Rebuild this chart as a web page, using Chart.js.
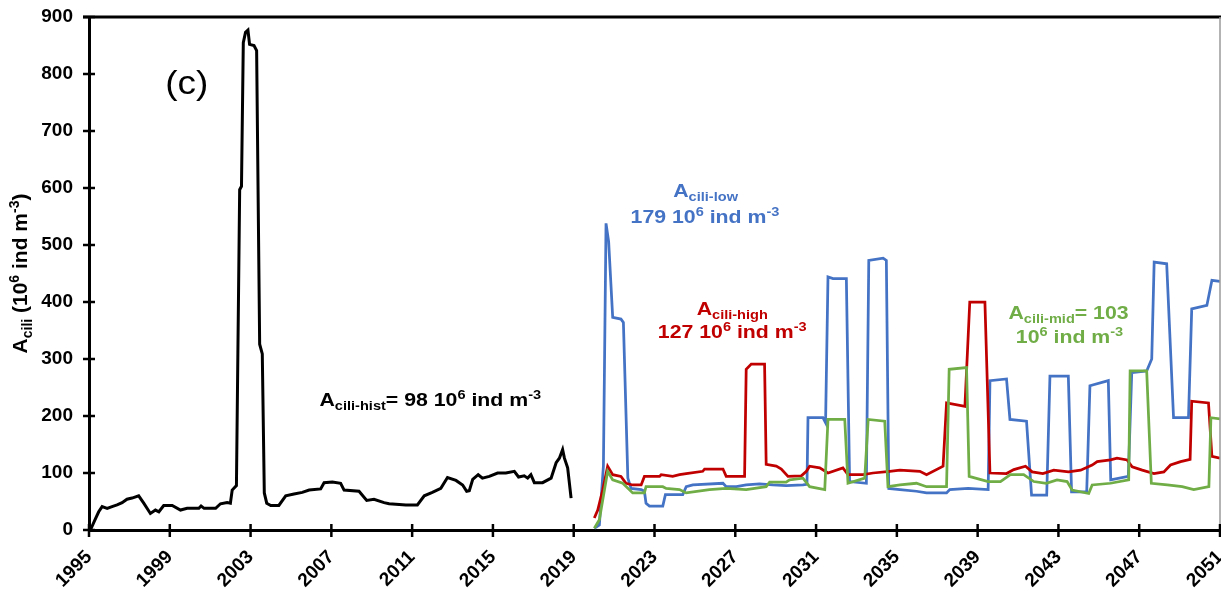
<!DOCTYPE html>
<html><head><meta charset="utf-8">
<script src="https://cdn.jsdelivr.net/npm/chart.js@4/dist/chart.umd.min.js"></script>
<style>html,body{margin:0;padding:0;background:#fff}#wrap{width:1221px;height:594px;position:relative}</style>
</head><body><div id="wrap"><canvas id="c"></canvas></div>
<script>
// ---- data ----
const histYears = [1995.07,1995.3,1995.48,1995.65,1995.9,1996.14,1996.39,1996.64,1996.88,1997.13,1997.46,1997.71,1998.04,1998.29,1998.46,1998.7,1999.12,1999.53,1999.86,2000.44,2000.55,2000.7,2001.27,2001.51,2001.84,2002.0,2002.09,2002.3,2002.46,2002.55,2002.64,2002.75,2002.87,2002.95,2003.17,2003.3,2003.45,2003.58,2003.68,2003.8,2004.0,2004.4,2004.74,2005.15,2005.56,2005.9,2006.47,2006.64,2007.05,2007.46,2007.63,2008.37,2008.75,2009.11,2009.61,2009.86,2010.69,2011.26,2011.6,2012.0,2012.42,2012.75,2013.17,2013.5,2013.7,2013.83,2014.0,2014.27,2014.48,2014.82,2015.23,2015.64,2016.06,2016.27,2016.55,2016.72,2016.88,2017.05,2017.46,2017.88,2018.13,2018.29,2018.45,2018.54,2018.7,2018.87];
const histValues = [0,18,32,41,38,41,44,48,54,56,60,47,29,35,32,43,43,35,38,38,42,38,38,46,48,47,70,78,597,603,855,873,877,852,850,841,326,309,65,47,43,43,60,63,66,70,72,83,84,82,70,68,52,54,48,46,44,44,60,66,73,92,87,79,68,69,89,97,91,94,100,100,103,93,95,91,97,83,83,91,118,126,141,126,109,56];

const lowYears = [2020.02,2020.27,2020.47,2020.6,2020.73,2020.93,2021.34,2021.46,2021.68,2021.84,2022.34,2022.5,2022.58,2022.75,2023.41,2023.54,2024.4,2024.57,2024.9,2026.39,2026.55,2027.05,2027.54,2028.2,2028.86,2029.52,2030.35,2030.55,2030.6,2031.34,2031.47,2031.59,2031.84,2032.5,2032.66,2033.49,2033.61,2034.32,2034.48,2034.6,2035.15,2035.97,2036.47,2037.46,2037.62,2038.53,2039.52,2039.61,2040.43,2040.6,2041.42,2041.67,2042.42,2042.58,2043.49,2043.65,2044.4,2044.56,2045.47,2045.59,2046.46,2046.63,2047.37,2047.62,2047.74,2048.36,2048.7,2049.44,2049.6,2050.35,2050.6,2051.0];
const lowValues = [3,9,112,538,506,373,370,364,91,73,71,68,47,42,42,62,62,76,79,82,76,76,79,81,79,78,79,80,197,197,188,444,441,441,85,82,473,477,473,73,71,68,65,65,71,73,71,262,265,194,191,61,61,270,270,67,67,253,262,88,94,276,279,300,470,467,197,197,388,394,438,436];

const highYears = [2020.02,2020.19,2020.44,2020.68,2020.93,2021.34,2021.59,2021.92,2022.34,2022.5,2023.25,2023.33,2023.9,2024.24,2024.57,2025.39,2025.48,2026.39,2026.55,2027.46,2027.54,2027.79,2028.45,2028.53,2029.03,2029.28,2029.61,2030.27,2030.52,2030.68,2031.18,2031.59,2032.33,2032.58,2033.33,2033.82,2034.65,2035.15,2036.14,2036.47,2037.29,2037.46,2038.37,2038.61,2039.36,2039.61,2040.43,2040.79,2041.37,2041.7,2042.23,2042.77,2043.5,2044.1,2044.67,2044.92,2045.58,2045.9,2046.4,2046.65,2047.15,2047.73,2048.22,2048.55,2049.05,2049.52,2049.6,2050.43,2050.6,2051.0];
const highValues = [21,35,71,112,97,94,82,79,79,94,94,97,94,97,99,103,107,107,94,94,282,291,291,115,112,107,94,95,103,112,109,100,109,97,97,100,103,105,103,97,112,223,217,400,400,100,99,106,112,102,99,105,102,105,114,120,123,126,123,111,105,99,102,114,120,124,226,223,129,126];

const midYears = [2020.02,2020.27,2020.68,2020.93,2021.43,2021.92,2022.5,2022.58,2023.41,2023.58,2024.24,2024.57,2025.72,2026.55,2027.54,2028.53,2028.7,2029.52,2029.69,2030.35,2030.68,2031.43,2031.59,2032.42,2032.58,2033.41,2033.58,2034.4,2034.56,2035.15,2035.97,2036.47,2037.46,2037.59,2038.45,2038.58,2039.52,2040.13,2040.62,2041.28,2041.78,2042.4,2042.93,2043.43,2043.68,2044.5,2044.67,2045.58,2046.48,2046.55,2047.37,2047.6,2048.39,2049.13,2049.7,2050.45,2050.55,2051.0];
const midValues = [3,18,103,88,82,65,65,76,76,73,71,65,71,73,71,76,84,84,88,91,76,71,194,194,82,91,194,191,76,79,82,76,76,282,285,94,85,85,97,97,85,82,88,85,70,64,79,82,88,279,279,82,79,76,71,76,197,195];

const yAxisMin = 0, yAxisMax = 900, yAxisStep = 100;
const xAxisMin = 1995, xAxisMax = 2051, xAxisStep = 4;

// ---- styling ----
const FONT = "'Liberation Sans', Arial, Helvetica, sans-serif";
const STRETCH = 1.12;

function pts(xs, ys){ return xs.map((x,i)=>({x:x, y:ys[i]})); }
function lineDs(label, xs, ys, color, w){
  return {label, data: pts(xs, ys), borderColor: color, backgroundColor: color,
          borderWidth: w, pointRadius: 0, tension: 0, fill: false};
}

// rich text annotations: [text, kind]  kind: n / sub / sup
const annotations = [
  {color:'#000000', lines:[{x:2011.9, y:217.6, segs:[['A','n'],['cili-hist','sub'],['= 98 10','n'],['6','sup'],[' ind m','n'],['-3','sup']]}]},
  {color:'#4472C4', lines:[
    {x:2025.53, y:584.5, segs:[['A','n'],['cili-low','sub']]},
    {x:2025.5, y:539.4, segs:[['179 10','n'],['6','sup'],[' ind m','n'],['-3','sup']]}]},
  {color:'#C00000', lines:[
    {x:2026.85, y:377.4, segs:[['A','n'],['cili-high','sub']]},
    {x:2026.85, y:337, segs:[['127 10','n'],['6','sup'],[' ind m','n'],['-3','sup']]}]},
  {color:'#70AD47', lines:[
    {x:2043.5, y:370.4, segs:[['A','n'],['cili-mid','sub'],['= 103','n']]},
    {x:2043.55, y:328, segs:[['10','n'],['6','sup'],[' ind m','n'],['-3','sup']]}]}
];
const panelLabel = {x:1999.84, y:764.5, text:'(c)'};
const yTitleSegs = [['A','n'],['cili','sub'],[' (10','n'],['6','sup'],[' ind m','n'],['-3','sup'],[')','n']];

function drawRich(ctx, segs, cx, by, color, mainPx, smallPx, stretch, subDy, supDy){
  ctx.save();
  ctx.fillStyle = color; ctx.textAlign = 'left'; ctx.textBaseline = 'alphabetic';
  const fontOf = k => 'bold ' + (k==='n'?mainPx:smallPx) + 'px ' + FONT;
  let total = 0; const ws = [];
  segs.forEach(s => { ctx.font = fontOf(s[1]); const w = ctx.measureText(s[0]).width; ws.push(w); total += w; });
  ctx.translate(cx, by); ctx.scale(stretch, 1);
  let x = -total/2;
  segs.forEach((s,i) => {
    ctx.font = fontOf(s[1]);
    const dy = s[1]==='sub' ? subDy : (s[1]==='sup' ? supDy : 0);
    ctx.fillText(s[0], x, dy);
    x += ws[i];
  });
  ctx.restore();
}

const overlay = {
  id:'overlay',
  afterDraw(chart){
    const ctx = chart.ctx, a = chart.chartArea, xs = chart.scales.x, ys = chart.scales.y;
    ctx.save();
    // top frame line and right edge
    ctx.strokeStyle = '#000'; ctx.lineWidth = 3;
    ctx.beginPath(); ctx.moveTo(a.left - 6, a.top); ctx.lineTo(chart.width, a.top); ctx.stroke();
    ctx.strokeStyle = '#9a9a9a'; ctx.lineWidth = 1.5;
    ctx.beginPath(); ctx.moveTo(a.right, a.top); ctx.lineTo(a.right, a.bottom); ctx.stroke();
    // crossing tick marks
    ctx.strokeStyle = '#000'; ctx.lineWidth = 2.5;
    xs.ticks.forEach(t => { const p = xs.getPixelForValue(t.value);
      ctx.beginPath(); ctx.moveTo(p, a.bottom - 6); ctx.lineTo(p, a.bottom + 7); ctx.stroke(); });
    ys.ticks.forEach(t => { const p = ys.getPixelForValue(t.value);
      ctx.beginPath(); ctx.moveTo(a.left - 6, p); ctx.lineTo(a.left + 6, p); ctx.stroke(); });
    ctx.restore();
    // y title
    ctx.save();
    ctx.translate(27, (a.top + a.bottom)/2); ctx.rotate(-Math.PI/2);
    drawRich(ctx, yTitleSegs, 0, 0, '#000', 21, 14, 1, 5, -8);
    ctx.restore();
    // annotations
    annotations.forEach(an => an.lines.forEach(l => {
      drawRich(ctx, l.segs, xs.getPixelForValue(l.x), ys.getPixelForValue(l.y), an.color, 19, 13, STRETCH, 4, -7);
    }));
    // panel label
    ctx.save();
    ctx.fillStyle = '#000'; ctx.font = '33px ' + FONT; ctx.textAlign = 'center'; ctx.textBaseline = 'alphabetic';
    ctx.translate(xs.getPixelForValue(panelLabel.x), ys.getPixelForValue(panelLabel.y)); ctx.scale(STRETCH, 1);
    ctx.fillText(panelLabel.text, 0, 0);
    ctx.restore();
  }
};

const tickFont = {family: FONT, size: 19, weight: 'bold'};
new Chart(document.getElementById('c'), {
  type: 'line',
  data: { datasets: [
    lineDs('A cili-mid', midYears, midValues, '#70AD47', 2.75),
    lineDs('A cili-high', highYears, highValues, '#C00000', 2.75),
    lineDs('A cili-low', lowYears, lowValues, '#4472C4', 2.75),
    lineDs('A cili-hist', histYears, histValues, '#000000', 3)
  ]},
  options: {
    responsive: true, maintainAspectRatio: false, animation: false,
    layout: {padding: {top: 17, right: 1, left: 0, bottom: 0}},
    plugins: {legend: {display: false}, tooltip: {enabled: false}},
    scales: {
      x: {type: 'linear', min: xAxisMin, max: xAxisMax,
          ticks: {stepSize: xAxisStep, autoSkip: false, minRotation: 45, maxRotation: 45, color: '#000', font: tickFont, padding: 16,
                  callback: v => String(v)},
          grid: {display: false, drawTicks: false},
          border: {display: true, color: '#000', width: 3},
          afterFit(s){ s.height = 64; s.paddingLeft = 0; s.paddingRight = 0; }},
      y: {min: yAxisMin, max: yAxisMax,
          ticks: {stepSize: yAxisStep, color: '#000', font: tickFont, padding: 16, callback: v => String(v)},
          grid: {display: false, drawTicks: false},
          border: {display: true, color: '#000', width: 3},
          afterFit(s){ s.width = 89; s.paddingTop = 0; s.paddingBottom = 0; }}
    }
  },
  plugins: [overlay]
});
</script></body></html>
